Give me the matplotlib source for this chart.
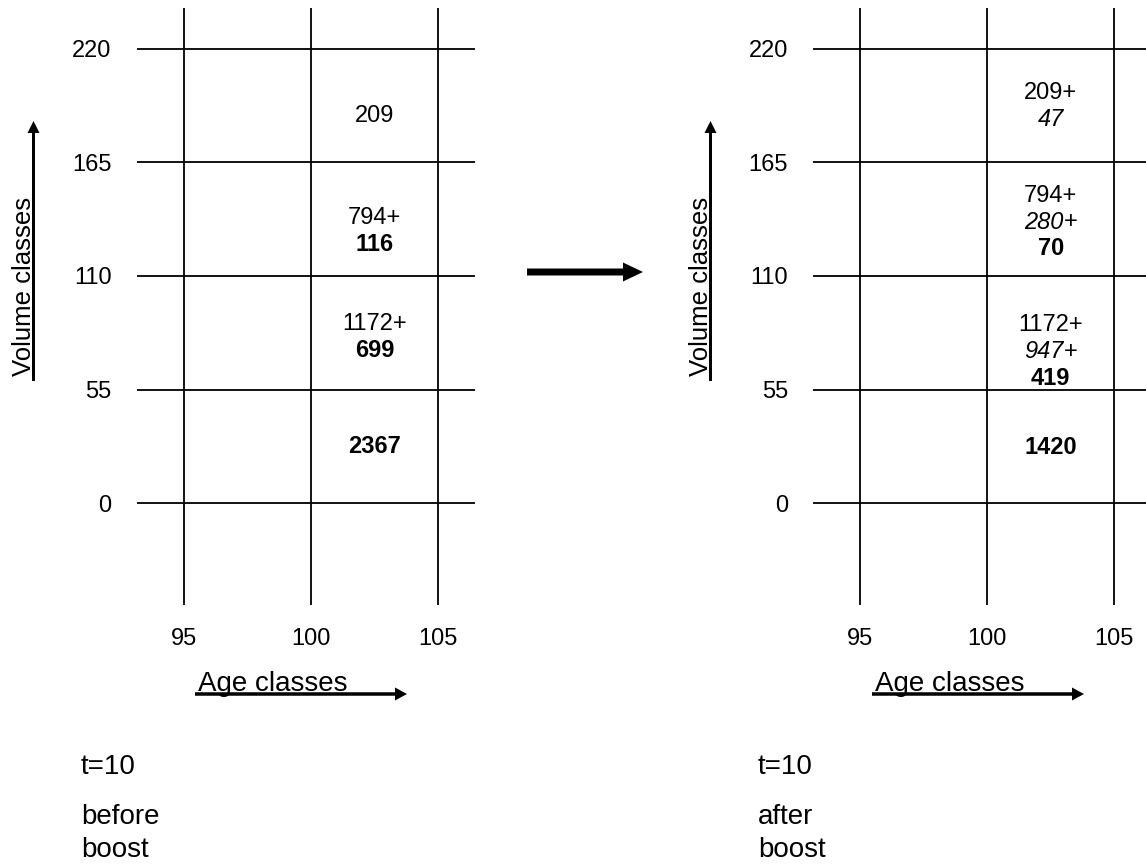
import matplotlib
matplotlib.use("Agg")
import matplotlib.pyplot as plt

plt.rcParams['font.family'] = 'Liberation Sans'

# class boundaries
age_classes = [95, 100, 105]
volume_classes = [0, 55, 110, 165, 220]

# counts in the 100-105 age column, per volume class (bottom to top)
before_plain = [None, 1172, 794, 209]
before_bold = [2367, 699, 116, None]

after_plain = [None, 1172, 794, 209]
after_italic = [None, 947, 280, 47]
after_bold = [1420, 419, 70, None]

panel_titles = [('t=10', 'before', 'boost'), ('t=10', 'after', 'boost')]

# layout: vertical nudge of each cell's text block, in pixels (down is positive)
before_nudge = [0, 5, 12, 10]
after_nudge = [1, 19, 3, 1]

W, H = 1146, 865
fig = plt.figure(figsize=(W / 100, H / 100), dpi=100)

num_size = 17
label_size = 20
grid_lw = 1.3
px_per_x = 25.4       # pixels per age unit
px_per_y = 2.0636     # pixels per volume unit


def cell_lines(plain, italic, bold):
    parts = []
    if plain is not None:
        parts.append(('normal', plain))
    if italic is not None:
        parts.append(('italic', italic))
    if bold is not None:
        parts.append(('bold', bold))
    lines = []
    for i, (kind, v) in enumerate(parts):
        plus = '+' if i < len(parts) - 1 else ''
        lines.append((kind, str(v), plus))
    return lines


def draw_panel(left_px, plain, italic, bold, nudge):
    ax = fig.add_axes([left_px / W, (H - 606.2) / H, 342.9 / W, 598.5 / H])
    ax.set_xlim(93.0, 106.5)
    ax.set_ylim(-50.0, 240.0)
    for s in ax.spines.values():
        s.set_visible(False)
    ax.set_facecolor('none')

    ax.hlines(volume_classes, 93.15, 106.45, color='black', lw=grid_lw)
    ax.vlines(age_classes, -49.4, 240, color='black', lw=grid_lw)

    ax.set_xticks(age_classes)
    ax.set_yticks(volume_classes)
    ax.tick_params(axis='y', length=0, pad=15.5, labelsize=num_size)
    ax.tick_params(axis='x', length=0, pad=16, labelsize=num_size)

    xc = (age_classes[1] + age_classes[2]) / 2
    spacing = 26.5 / px_per_y
    em = num_size * 100 / 72 / px_per_x   # one em in age units
    for k in range(len(volume_classes) - 1):
        it = italic[k] if italic is not None else None
        lines = cell_lines(plain[k], it, bold[k])
        yc = (volume_classes[k] + volume_classes[k + 1]) / 2 - nudge[k] / px_per_y
        n = len(lines)
        for i, (kind, txt, plus) in enumerate(lines):
            y = yc + ((n - 1) / 2 - i) * spacing
            if kind == 'italic' and plus:
                # italic number followed by an upright '+', centred as one string
                split = xc + (len(txt) * 0.556 + 0.584) / 2 * em - 0.584 * em
                ax.text(split, y, txt, ha='right', va='center',
                        fontsize=num_size, fontstyle='italic')
                ax.text(split, y, plus, ha='left', va='center', fontsize=num_size)
            elif kind == 'italic':
                ax.text(xc, y, txt, ha='center', va='center',
                        fontsize=num_size, fontstyle='italic')
            else:
                ax.text(xc, y, txt + plus, ha='center', va='center',
                        fontsize=num_size, fontweight=kind)
    return ax


draw_panel(133.2, before_plain, None, before_bold, before_nudge)
draw_panel(809.4, after_plain, after_italic, after_bold, after_nudge)

# overlay in pixel coordinates for arrows and free labels
ov = fig.add_axes([0, 0, 1, 1])
ov.set_xlim(0, W)
ov.set_ylim(H, 0)
ov.axis('off')
ov.set_facecolor('none')

for dx, titles in zip([0, 677], panel_titles):
    # volume axis arrow and label
    ov.arrow(33.5 + dx, 381, 0, -260, width=3, head_width=12, head_length=12,
             length_includes_head=True, color='black', lw=0)
    ov.text(31 + dx, 376, 'Volume classes', rotation=90, rotation_mode='anchor',
            ha='left', va='baseline', fontsize=18.5)
    # age axis arrow and label
    ov.arrow(195 + dx, 694, 212, 0, width=3.5, head_width=13, head_length=12,
             length_includes_head=True, color='black', lw=0)
    ov.text(198 + dx, 691, 'Age classes', ha='left', va='baseline', fontsize=label_size)
    # panel notes
    ov.text(81 + dx, 767, titles[0], ha='left', va='center', fontsize=label_size)
    ov.text(81 + dx, 817, titles[1], ha='left', va='center', fontsize=label_size)
    ov.text(81 + dx, 850, titles[2], ha='left', va='center', fontsize=label_size)

# arrow between the panels
ov.arrow(527, 272, 116, 0, width=7, head_width=19, head_length=20,
         length_includes_head=True, color='black', lw=0)

fig.savefig('out.png', dpi=100, facecolor='white')
